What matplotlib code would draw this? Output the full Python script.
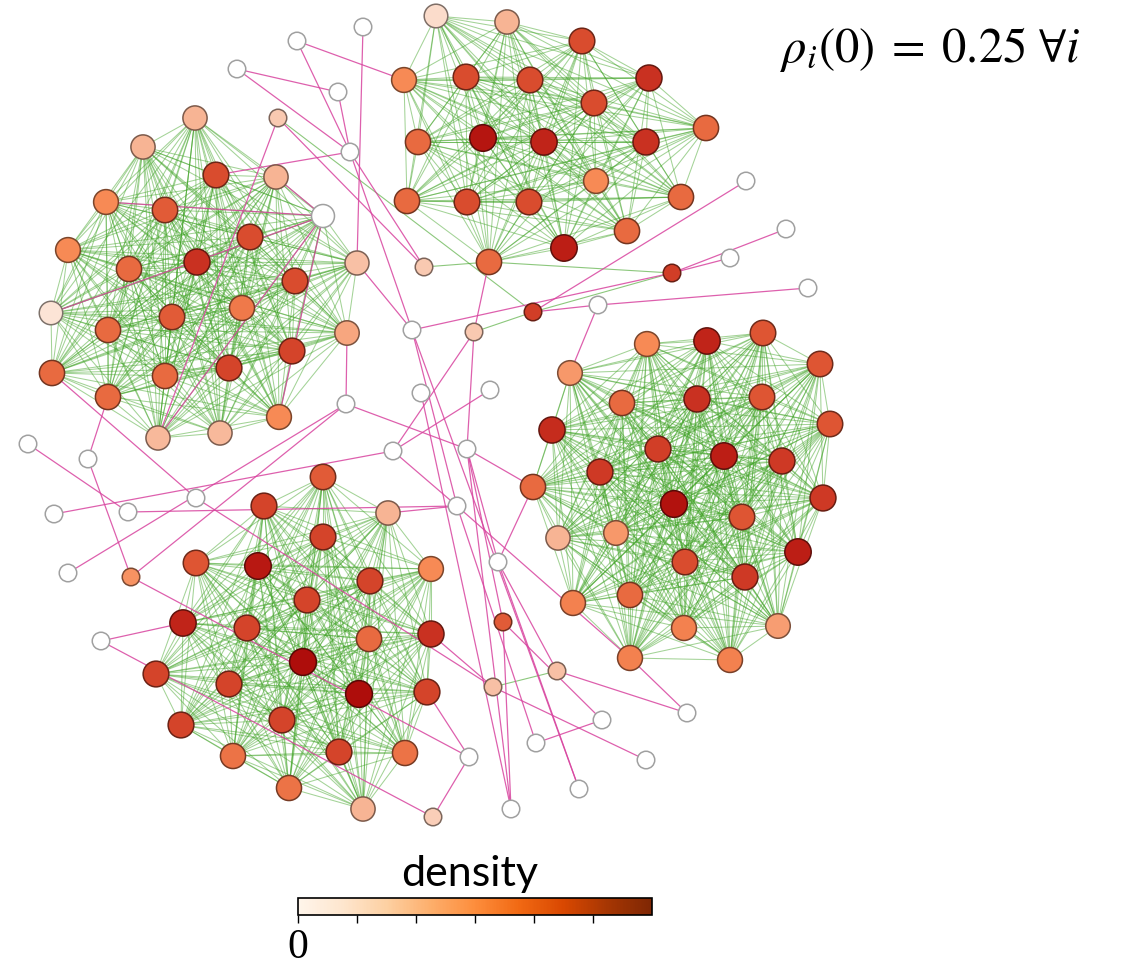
import matplotlib.pyplot as plt
from matplotlib.colors import LinearSegmentedColormap, Normalize, to_rgb
from matplotlib.collections import LineCollection
from matplotlib.cm import ScalarMappable
from itertools import combinations

plt.rcParams["mathtext.fontset"] = "stix"

# community A (upper left): node layout and density
a_x = [195, 143, 216, 276, 106, 165, 250, 68, 129, 197, 295, 357, 51, 108, 172,
       242, 347, 292, 52, 165, 229, 108, 279, 158, 220, 323]
a_y = [118, 147, 175, 177, 202, 210, 237, 250, 269, 262, 281, 263, 313, 330, 317,
       308, 333, 351, 373, 376, 368, 397, 417, 438, 433, 216]
a_rho = [0.3, 0.3, 0.65, 0.3, 0.45, 0.6, 0.65, 0.45, 0.55, 0.75, 0.65, 0.25, 0.12,
         0.55, 0.6, 0.5, 0.35, 0.68, 0.55, 0.55, 0.68, 0.55, 0.45, 0.28, 0.28, 0.0]

# community B (top)
b_x = [436, 507, 582, 404, 466, 530, 649, 594, 706, 418, 483, 544, 646, 596, 407,
       467, 529, 681, 627, 564, 489]
b_y = [16, 22, 41, 80, 77, 80, 78, 103, 128, 142, 138, 142, 142, 181, 201,
       202, 202, 197, 231, 248, 262]
b_rho = [0.15, 0.3, 0.65, 0.45, 0.65, 0.65, 0.75, 0.65, 0.55, 0.55, 0.9, 0.82, 0.75,
         0.45, 0.55, 0.65, 0.65, 0.55, 0.55, 0.85, 0.55]

# community C (right)
c_x = [647, 707, 763, 820, 570, 622, 697, 762, 830, 552, 658, 724, 782, 600, 533,
       674, 742, 823, 558, 616, 685, 798, 745, 630, 573, 684, 778, 630, 730]
c_y = [344, 341, 333, 364, 373, 403, 399, 397, 424, 430, 449, 456, 461, 472, 487,
       504, 517, 498, 538, 533, 562, 552, 577, 595, 603, 628, 626, 658, 660]
c_rho = [0.45, 0.82, 0.62, 0.62, 0.4, 0.55, 0.75, 0.62, 0.62, 0.78, 0.7, 0.85, 0.72,
         0.72, 0.55, 0.92, 0.62, 0.72, 0.3, 0.4, 0.65, 0.85, 0.72, 0.55, 0.48, 0.48,
         0.38, 0.48, 0.48]

# community D (lower left)
d_x = [323, 264, 388, 323, 196, 258, 431, 370, 307, 183, 247, 369, 431, 303, 156,
       229, 359, 427, 181, 282, 339, 233, 405, 289, 363]
d_y = [477, 506, 513, 537, 563, 566, 569, 581, 600, 623, 628, 639, 634, 662, 674,
       684, 694, 692, 725, 720, 752, 756, 753, 788, 809]
d_rho = [0.6, 0.68, 0.3, 0.68, 0.62, 0.88, 0.45, 0.68, 0.68, 0.82, 0.68, 0.55, 0.75,
         0.95, 0.68, 0.68, 0.95, 0.68, 0.68, 0.68, 0.68, 0.52, 0.52, 0.52, 0.3]

# peripheral nodes outside the communities
p_x = [297, 363, 237, 338, 278, 350, 424, 412, 474, 533, 598, 672, 730, 786, 746,
       808, 346, 490, 421, 393, 467, 457, 498, 28, 88, 196, 54, 128, 68, 131, 101,
       503, 557, 493, 602, 687, 536, 469, 646, 579, 511, 433]
p_y = [41, 27, 69, 92, 118, 152, 267, 330, 332, 312, 305, 273, 258, 229, 181,
       288, 404, 390, 393, 451, 449, 506, 562, 444, 459, 498, 514, 512, 573, 577,
       641, 622, 671, 687, 720, 713, 743, 757, 760, 789, 809, 817]
p_rho = [0, 0, 0, 0, 0.22, 0, 0.22, 0, 0.22, 0.7, 0, 0.7, 0, 0, 0, 0, 0, 0, 0, 0,
         0, 0, 0, 0, 0, 0, 0, 0, 0, 0.42, 0, 0.6, 0.25, 0.25, 0, 0, 0, 0, 0, 0, 0,
         0.2]

# sparse links between communities and periphery
pink_links = [
    ("P1", "B4"), ("P3", "P4"), ("P3", "P6"), ("P1", "P6"), ("P4", "P6"),
    ("P2", "A12"), ("P6", "P7"), ("P6", "P8"), ("P5", "P7"), ("P5", "A24"),
    ("P6", "A3"), ("A5", "A26"), ("A13", "A26"), ("A26", "A23"), ("A26", "A24"),
    ("A26", "A4"), ("A12", "P8"), ("A17", "P17"), ("A22", "P25"), ("A19", "P26"),
    ("P26", "P34"), ("P17", "P29"), ("P17", "P30"), ("P27", "P20"), ("P24", "P28"),
    ("P25", "P30"), ("P28", "P22"), ("P30", "P38"), ("P31", "D10"), ("P31", "P42"),
    ("D3", "P22"), ("P17", "P21"), ("P21", "C15"), ("P8", "P22"), ("P8", "P12"),
    ("P10", "P15"), ("P11", "P16"), ("P10", "P11"), ("P12", "P13"), ("P12", "P14"),
    ("P11", "C5"), ("B21", "P9"), ("P9", "P20"), ("P9", "P21"), ("P18", "P20"),
    ("P19", "P41"), ("P8", "P40"), ("P21", "P23"), ("P21", "P32"), ("P21", "P41"),
    ("P22", "P37"), ("P23", "P33"), ("P23", "P40"), ("P32", "P41"), ("P32", "P35"),
    ("P33", "P36"), ("P34", "D13"), ("P34", "P39"), ("P35", "P37"), ("P38", "P42"),
    ("P38", "D18"), ("C28", "P36"), ("P22", "C28"), ("P20", "P22"), ("P23", "C15"),
]
green_links = [
    ("P5", "P10"), ("P9", "P10"), ("P10", "P12"), ("P7", "B21"), ("B21", "P12"),
    ("P33", "P34"),
]

groups = [("A", a_x, a_y, a_rho), ("B", b_x, b_y, b_rho), ("C", c_x, c_y, c_rho),
          ("D", d_x, d_y, d_rho), ("P", p_x, p_y, p_rho)]

pos = {}
rho = {}
members = {}
for tag, xs, ys, rs in groups:
    members[tag] = []
    for i, (x, y, r) in enumerate(zip(xs, ys, rs)):
        name = f"{tag}{i + 1}"
        pos[name] = (x, y)
        rho[name] = r
        members[tag].append(name)

# dense links inside each community
intra = []
for tag in "ABCD":
    intra += list(combinations(members[tag], 2))

node_cmap = LinearSegmentedColormap.from_list("rho", [
    (0.0, "#ffffff"), (0.15, "#fbdccb"), (0.3, "#f7b393"), (0.45, "#f78a55"),
    (0.55, "#e86a40"), (0.65, "#d94c2e"), (0.75, "#c93221"), (0.88, "#b81812"),
    (1.0, "#a80606")])

fig = plt.figure(figsize=(11.32, 9.67), dpi=100)
ax = fig.add_axes([0, 0, 1, 1])
ax.set_xlim(0, 1132)
ax.set_ylim(967, 0)
ax.axis("off")

seg = lambda links: [[pos[u], pos[v]] for u, v in links]
ax.add_collection(LineCollection(seg(intra), colors="#40a326", linewidths=0.75,
                                 alpha=0.48, zorder=1))
ax.add_collection(LineCollection(seg(green_links), colors="#40a326", linewidths=0.8,
                                 alpha=0.6, zorder=1))
ax.add_collection(LineCollection(seg(pink_links), colors="#d8449f", linewidths=0.9,
                                 alpha=0.85, zorder=2))

names = list(pos)
xs = [pos[n][0] for n in names]
ys = [pos[n][1] for n in names]
face = [node_cmap(rho[n]) for n in names]
edge = ["#a0a0a0" if rho[n] == 0 else tuple(c * 0.5 for c in to_rgb(node_cmap(rho[n])))
        for n in names]
diam = [17.5 if n.startswith("P") else 23 + 4 * rho[n] for n in names]
ax.scatter(xs, ys, s=[(0.72 * d) ** 2 for d in diam], c=face, edgecolors=edge,
           linewidths=1.1, zorder=3)

ax.text(780, 62, r"$\rho_i(0)\;=\;0.25\ \forall i$", fontsize=35, ha="left",
        va="baseline", zorder=4)

# density colour bar
cax = fig.add_axes([298 / 1132, 1 - 915 / 967, 354 / 1132, 17 / 967])
cb = fig.colorbar(ScalarMappable(Normalize(0, 6), cmap="Oranges"), cax=cax,
                  orientation="horizontal")
cb.set_ticks(range(6))
cb.set_ticklabels(["0", "", "", "", "", ""])
cb.outline.set_linewidth(1.2)
cax.tick_params(length=6, width=1, labelsize=30, pad=4)
for t in cax.get_xticklabels():
    t.set_family("Liberation Serif")
fig.text(470 / 1132, 1 - 886 / 967, "density", fontsize=31, family="Lato",
         ha="center", va="baseline")

fig.savefig("out.png", dpi=100)
